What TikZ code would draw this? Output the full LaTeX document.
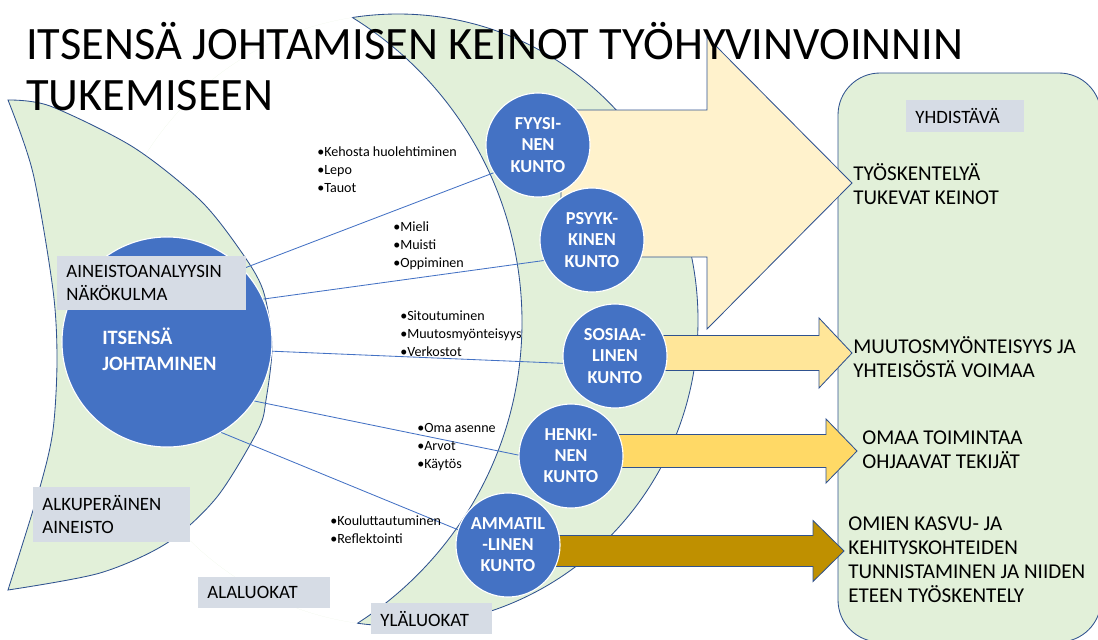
\documentclass[tikz,border=0pt]{standalone}
\usepackage{fontspec}
\setmainfont{Carlito}
\usepackage{xcolor}
\usepackage{tikz}
\definecolor{lgreen}{HTML}{E2F0D9}
\definecolor{edge}{HTML}{2F528F}
\definecolor{ball}{HTML}{4472C4}
\definecolor{tag}{HTML}{D6DCE5}
\definecolor{arA}{HTML}{FFF2CC}
\definecolor{arB}{HTML}{FFE699}
\definecolor{arC}{HTML}{FFD966}
\definecolor{arD}{HTML}{BF9000}

\begin{document}
\begin{tikzpicture}[x=0.025cm,y=-0.025cm,
  crescent/.style={draw=edge,fill=lgreen,line width=0.6pt},
  ball/.style={circle,fill=ball,draw=white,line width=0.8pt,minimum size=2.6cm,inner sep=0pt,text=white,align=center,font=\fontsize{13}{15}\selectfont\bfseries},
  tagbox/.style={fill=tag,anchor=north west,inner xsep=0.23cm,inner ysep=0pt,align=left,font=\fontsize{13.4}{16.5}\selectfont},
  note/.style={anchor=base west,inner sep=0pt,align=left,font=\fontsize{15}{17}\selectfont},
  bul/.style={anchor=base west,inner sep=0pt,align=left,font=\fontsize{10}{12.45}\selectfont},
  link/.style={draw=ball,line width=0.6pt}]
  \useasboundingbox (0,0) rectangle (1098,639);
  % ylaluokat crescent
  \begin{scope}
    \clip (0,13) rectangle (1098,639);
    \clip (398,320) ellipse (300 and 306);
    \fill[lgreen,even odd rule] (398,320) ellipse (300 and 306) (164,322) circle (358);
    \draw[edge,line width=0.6pt] (164,322) circle (358);
  \end{scope}
  \begin{scope}[even odd rule]
    \clip (0,13) rectangle (1098,639);
    \clip (-50,-50) rectangle (1150,700) (164,322) circle (358);
    \draw[edge,line width=0.6pt] (398,320) ellipse (300 and 306);
  \end{scope}
  % alaluokat crescent
  \draw[crescent] plot[smooth] coordinates {(8,100) (50,106) (133,147) (200,200) (240,250) (263,290) (272,345) (266,400) (258,430) (217,497) (167,543) (100,573) (8,590)}
    -- plot[smooth] coordinates {(8,590) (40,487) (53,430) (57,360) (53,290) (33,173) (8,100)} -- cycle;
  % yhdistava
  \draw[crescent,rounded corners=1.05cm] (838,73) rectangle (1101,642);
  % block arrows
  \draw[edge,line width=0.6pt,fill=arA] (561,110) -- (707,110) -- (707,37) -- (852,183) -- (707,329) -- (707,257) -- (561,257) -- cycle;
  \foreach \yc/\sh/\hh/\xa/\xb/\xt/\col in {353/17.5/35/615/819/852/arB,451/16.5/32/571/826/857/arC,551/15.5/30.5/508/813/844/arD}{
    \draw[edge,line width=0.6pt,fill=\col] (\xa,\yc-\sh) -- (\xb,\yc-\sh) -- (\xb,\yc-\hh) -- (\xt,\yc) -- (\xb,\yc+\hh) -- (\xb,\yc+\sh) -- (\xa,\yc+\sh) -- cycle;}
  % circles
  \node[ball,minimum size=5.25cm] (itse) at (167,342) {};
  \node[ball] (fyys) at (538,145) {FYYSI-\\NEN\\KUNTO};
  \node[ball] (psyy) at (592,240) {PSYYK-\\KINEN\\KUNTO};
  \node[ball] (sosi) at (615,356) {SOSIAA-\\LINEN\\KUNTO};
  \node[ball] (henk) at (571,456) {HENKI-\\NEN\\KUNTO};
  \node[ball] (amma) at (508,545) {AMMATIL\\-LINEN\\KUNTO};
  \draw[link] (itse.44) -- (fyys.212);
  \draw[link] (itse.24) -- (psyy.203);
  \draw[link] (itse.-5) -- (sosi.188);
  \draw[link] (itse.-34) -- (henk.179);
  \draw[link] (itse.-59) -- (amma.163);
  \node[anchor=base west,inner sep=0pt,align=left,text=white,font=\fontsize{14.5}{17.8}\selectfont\bfseries] (itset) at (102,370) {ITSENSÄ\\JOHTAMINEN};
  % labels
  \node[tagbox,minimum height=1.35cm,text width=4.25cm] (aine) at (57,256) {AINEISTOANALYYSIN\\NÄKÖKULMA};
  \node[tagbox,minimum height=1.375cm,text width=3.465cm] (alku) at (33,487) {ALKUPERÄINEN\\AINEISTO};
  \node[tagbox,minimum height=0.775cm,text width=2.84cm] (alal) at (198,577) {ALALUOKAT};
  \node[tagbox,minimum height=0.775cm,text width=2.565cm] (ylal) at (371,603) {YLÄLUOKAT};
  \node[tagbox,minimum height=0.8cm,text width=2.49cm] (yhdi) at (906,100) {YHDISTÄVÄ};
  \node[bul] (b1) at (317,192) {\textbullet Kehosta huolehtiminen\\\textbullet Lepo\\\textbullet Tauot};
  \node[bul] (b2) at (393,267) {\textbullet Mieli\\\textbullet Muisti\\\textbullet Oppiminen};
  \node[bul] (b3) at (400,356) {\textbullet Sitoutuminen\\\textbullet Muutosmyönteisyys\\\textbullet Verkostot};
  \node[bul] (b4) at (417,468) {\textbullet Oma asenne\\\textbullet Arvot\\\textbullet Käytös};
  \node[bul] (b5) at (330,543) {\textbullet Kouluttautuminen\\\textbullet Reflektointi};
  \node[note] (r1) at (853,204) {TYÖSKENTELYÄ\\TUKEVAT KEINOT};
  \node[note] (r2) at (853,377) {MUUTOSMYÖNTEISYYS JA\\YHTEISÖSTÄ VOIMAA};
  \node[note] (r3) at (862,468) {OMAA TOIMINTAA\\OHJAAVAT TEKIJÄT};
  \node[note] (r4) at (848,602) {OMIEN KASVU- JA\\KEHITYSKOHTEIDEN\\TUNNISTAMINEN JA NIIDEN\\ETEEN TYÖSKENTELY};
  % title
  \node[anchor=base west,inner sep=0pt,align=left,font=\fontsize{33}{35.6}\selectfont] (title) at (26,110) {ITSENSÄ JOHTAMISEN KEINOT TYÖHYVINVOINNIN\\TUKEMISEEN};
\end{tikzpicture}
\end{document}
